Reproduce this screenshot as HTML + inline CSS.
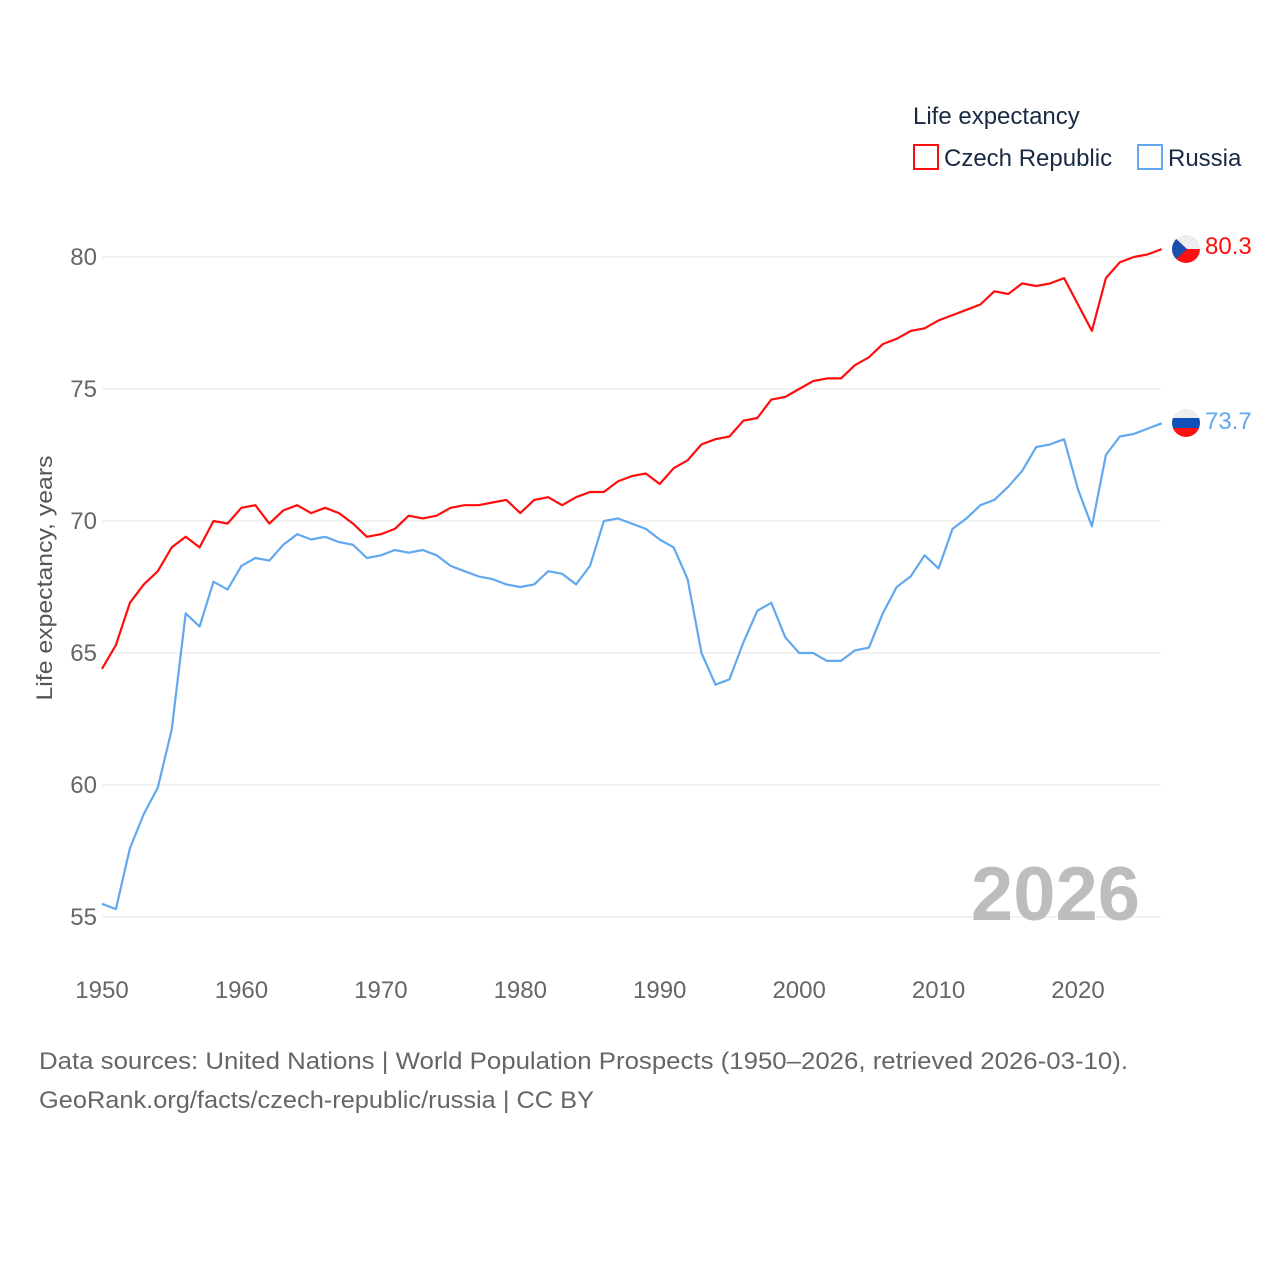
<!DOCTYPE html>
<html><head><meta charset="utf-8"><style>
html,body{margin:0;padding:0;background:#fff;}
svg{display:block;font-family:"Liberation Sans",sans-serif;}
</style></head><body>
<svg id="chart" width="1280" height="1280" viewBox="0 0 1280 1280">
<defs>
<clipPath id="c1"><circle cx="1186" cy="249" r="14"/></clipPath>
<clipPath id="c2"><circle cx="1186" cy="423" r="14"/></clipPath>
</defs>
<g id="grid"></g>
<g id="yticks"></g>
<g id="xticks"></g>
<text x="52" y="578" transform="rotate(-90 52 578)" text-anchor="middle" font-size="22" fill="#555" textLength="245" lengthAdjust="spacingAndGlyphs">Life expectancy, years</text>
<text x="1140" y="920" text-anchor="end" font-size="76" font-weight="bold" fill="#bdbdbd">2026</text>
<g id="series"></g>
<g>
<text x="913" y="124" font-size="24" fill="#1a2a44">Life expectancy</text>
<rect x="914" y="145" width="24" height="24" fill="none" stroke="#ff0d0d" stroke-width="2"/>
<text x="944" y="166" font-size="24" fill="#1a2a44">Czech Republic</text>
<rect x="1138" y="145" width="24" height="24" fill="none" stroke="#62a8ee" stroke-width="2"/>
<text x="1168" y="166" font-size="24" fill="#1a2a44">Russia</text>
</g>
<g clip-path="url(#c1)">
<rect x="1172" y="235" width="28" height="14" fill="#eeeeee"/>
<rect x="1172" y="249" width="28" height="14" fill="#ff1010"/>
<polygon points="1172,235 1187,249 1172,263" fill="#1a4fb0"/>
</g>
<g clip-path="url(#c2)">
<rect x="1172" y="409" width="28" height="10" fill="#eeeeee"/>
<rect x="1172" y="418" width="28" height="10" fill="#1050b8"/>
<rect x="1172" y="428" width="28" height="10" fill="#ff1010"/>
</g>
<text id="lab1" x="1205" y="254" font-size="24" fill="#ff0d0d"></text>
<text id="lab2" x="1205" y="429" font-size="24" fill="#62a8ee"></text>
<text x="39" y="1069" font-size="24" fill="#666" textLength="1089" lengthAdjust="spacingAndGlyphs">Data sources: United Nations | World Population Prospects (1950–2026, retrieved 2026-03-10).</text>
<text x="39" y="1108" font-size="24" fill="#666" textLength="555" lengthAdjust="spacingAndGlyphs">GeoRank.org/facts/czech-republic/russia | CC BY</text>
</svg>
<script>
const startYear = 1950;
const yTickValues = [55,60,65,70,75,80];
const xTickValues = [1950,1960,1970,1980,1990,2000,2010,2020];
const czech = [64.4,65.3,66.9,67.6,68.1,69.0,69.4,69.0,70.0,69.9,70.5,70.6,69.9,70.4,70.6,70.3,70.5,70.3,69.9,69.4,69.5,69.7,70.2,70.1,70.2,70.5,70.6,70.6,70.7,70.8,70.3,70.8,70.9,70.6,70.9,71.1,71.1,71.5,71.7,71.8,71.4,72.0,72.3,72.9,73.1,73.2,73.8,73.9,74.6,74.7,75.0,75.3,75.4,75.4,75.9,76.2,76.7,76.9,77.2,77.3,77.6,77.8,78.0,78.2,78.7,78.6,79.0,78.9,79.0,79.2,78.2,77.2,79.2,79.8,80.0,80.1,80.3];
const russia = [55.5,55.3,57.6,58.9,59.9,62.1,66.5,66.0,67.7,67.4,68.3,68.6,68.5,69.1,69.5,69.3,69.4,69.2,69.1,68.6,68.7,68.9,68.8,68.9,68.7,68.3,68.1,67.9,67.8,67.6,67.5,67.6,68.1,68.0,67.6,68.3,70.0,70.1,69.9,69.7,69.3,69.0,67.8,65.0,63.8,64.0,65.4,66.6,66.9,65.6,65.0,65.0,64.7,64.7,65.1,65.2,66.5,67.5,67.9,68.7,68.2,69.7,70.1,70.6,70.8,71.3,71.9,72.8,72.9,73.1,71.2,69.8,72.5,73.2,73.3,73.5,73.7];

const NS = 'http://www.w3.org/2000/svg';
const xs = yr => 102 + (yr - 1950) * (976 / 70);
const ys = v => 257 + (80 - v) * 26.4;
function mk(tag, attrs, parent, txt){
  const e = document.createElementNS(NS, tag);
  for (const k in attrs) e.setAttribute(k, attrs[k]);
  if (txt !== undefined) e.textContent = txt;
  parent.appendChild(e); return e;
}
const grid = document.getElementById('grid'), yt = document.getElementById('yticks'), xt = document.getElementById('xticks'), ser = document.getElementById('series');
yTickValues.forEach(v => {
  const l = mk('line', {x1:102, x2:1161, y1:ys(v), y2:ys(v), stroke:'#e6e6e6', 'stroke-width':1}, grid);
  
  
  const t = mk('text', {x:97, y:ys(v)+8, 'text-anchor':'end', 'font-size':24, fill:'#666'}, yt, String(v));
  
  
});
xTickValues.forEach(v => {
  const t = mk('text', {x:xs(v), y:998, 'text-anchor':'middle', 'font-size':24, fill:'#666'}, xt, String(v));
  
  
});
function line(data, color, name){
  const d = data.map((v,i) => (i?'L':'M') + xs(startYear+i).toFixed(1) + ',' + ys(v).toFixed(1)).join(' ');
  const p = mk('path', {d:d, fill:'none', stroke:color, 'stroke-width':2.2, 'stroke-linejoin':'round'}, ser);
  
  
}
line(czech, '#ff0d0d', 'czech-line');
line(russia, '#62a8ee', 'russia-line');
const l1 = document.getElementById('lab1'), l2 = document.getElementById('lab2');
l1.textContent = czech[czech.length-1].toFixed(1);
l2.textContent = russia[russia.length-1].toFixed(1);
</script>
</body></html>
